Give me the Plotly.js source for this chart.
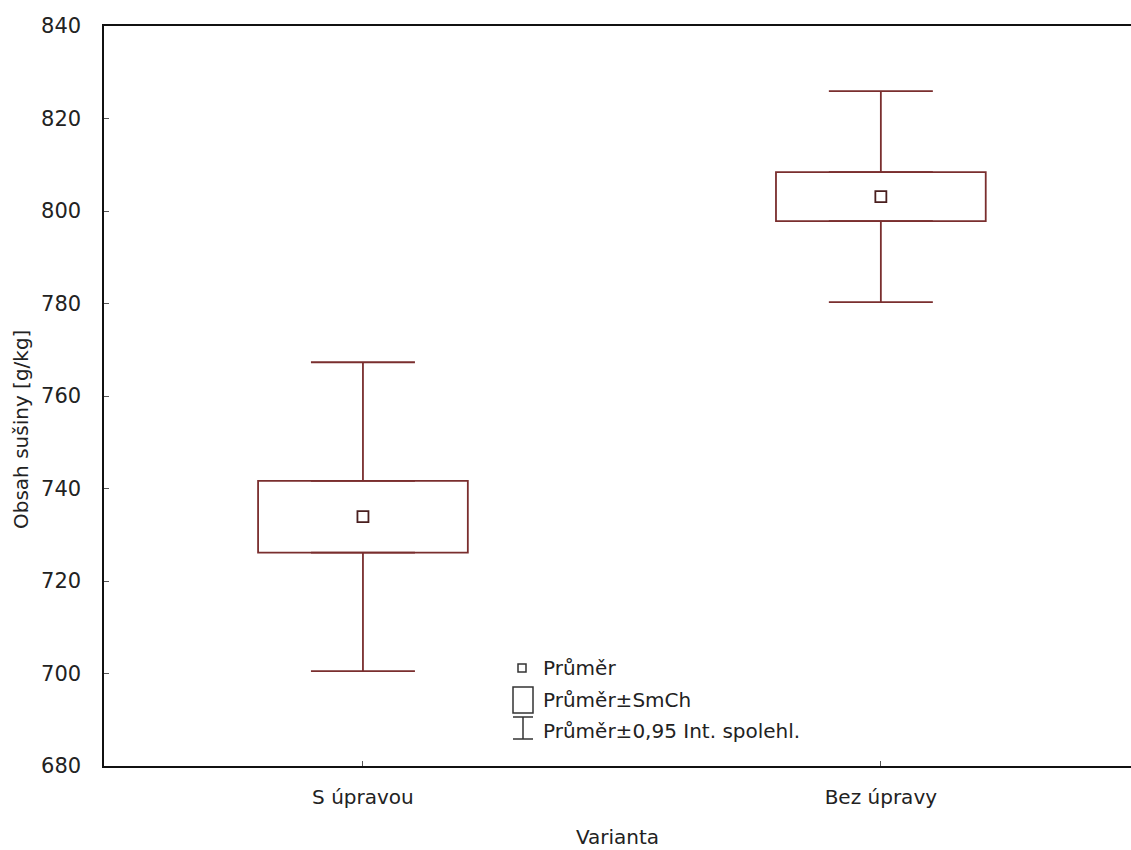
<!DOCTYPE html>
<html>
<head>
<meta charset="utf-8">
<script src="https://cdn.plot.ly/plotly-3.0.1.min.js"></script>
<style>html,body{margin:0;padding:0;background:#fff;}#chart{width:1131px;height:850px;}</style>
</head>
<body>
<div id="chart"></div>
<script>
// Data
const categories = ["S úpravou", "Bez úpravy"];
const means = [733.9, 803.1];
const stdErr = [7.75, 5.3];          // Průměr ± SmCh
const ci95 = [33.4, 22.8];           // Průměr ± 0,95 Int. spolehl.
const yTicks = [680, 700, 720, 740, 760, 780, 800, 820, 840];
const legendLabels = ["Průměr", "Průměr±SmCh", "Průměr±0,95 Int. spolehl."];
const xTitle = "Varianta";
const yTitle = "Obsah sušiny [g/kg]";

const lineColor = "#7a2e2e";
const catIdx = categories.map((c, i) => i);

const boxBase = means.map((m, i) => m - stdErr[i]);
const boxHeight = stdErr.map(s => 2 * s);
const upperStart = means.map((m, i) => m + stdErr[i]);
const lowerStart = means.map((m, i) => m - stdErr[i]);
const whiskerLen = ci95.map((c, i) => c - stdErr[i]);
const zeros = means.map(() => 0);

const traces = [
  {
    type: "bar", x: catIdx, y: boxHeight, base: boxBase, width: 0.405,
    marker: {color: "rgba(255,255,255,1)", line: {color: lineColor, width: 1.8}},
    showlegend: false, hoverinfo: "skip"
  },
  {
    type: "scatter", mode: "markers", x: catIdx, y: upperStart,
    marker: {size: 1, color: "rgba(0,0,0,0)"},
    error_y: {type: "data", symmetric: false, array: whiskerLen, arrayminus: zeros,
              color: lineColor, thickness: 1.8, width: 52},
    showlegend: false, hoverinfo: "skip"
  },
  {
    type: "scatter", mode: "markers", x: catIdx, y: lowerStart,
    marker: {size: 1, color: "rgba(0,0,0,0)"},
    error_y: {type: "data", symmetric: false, array: zeros, arrayminus: whiskerLen,
              color: lineColor, thickness: 1.8, width: 52},
    showlegend: false, hoverinfo: "skip"
  },
  {
    type: "scatter", mode: "markers", x: catIdx, y: means,
    marker: {symbol: "square-open", size: 11, color: "#4a1f1f", line: {width: 1.8, color: "#4a1f1f"}},
    showlegend: false
  }
];

const font = "DejaVu Sans, Arial, sans-serif";
const textColor = "#222";
const legendColor = "#333";

// plot area in pixels (for converting legend/title pixel spots to paper coords)
const PL = 104, PR = 1131, PT = 26, PB = 766;
const px = v => (v - PL) / (PR - PL);
const py = v => (PB - v) / (PB - PT);

const layout = {
  width: 1131, height: 850,
  margin: {l: PL, r: 1131 - PR, t: PT, b: 850 - PB},
  paper_bgcolor: "#fff", plot_bgcolor: "#fff",
  font: {family: font, size: 20, color: textColor},
  showlegend: false,
  xaxis: {
    range: [-0.5, 1.483], tickmode: "array", tickvals: catIdx, ticktext: categories,
    ticks: "inside", ticklen: 5, tickcolor: "#555", showline: true, linecolor: "#111", linewidth: 1.6,
    mirror: true, showgrid: false, zeroline: false, ticklabelstandoff: 12,
    tickfont: {family: font, size: 20, color: textColor},
    title: {text: xTitle, font: {family: font, size: 20, color: textColor}, standoff: 22}
  },
  yaxis: {
    range: [680, 840], tickmode: "array", tickvals: yTicks,
    ticks: "inside", ticklen: 5, tickcolor: "#555", showline: true, linecolor: "#111", linewidth: 1.6,
    showgrid: false, zeroline: false, ticklabelstandoff: 17,
    tickfont: {family: font, size: 21, color: textColor}
  },
  shapes: [
    {type: "rect", xref: "paper", yref: "paper", x0: px(518), x1: px(526), y0: py(672), y1: py(664),
     line: {color: legendColor, width: 1.5}},
    {type: "rect", xref: "paper", yref: "paper", x0: px(513), x1: px(533), y0: py(713), y1: py(687),
     line: {color: legendColor, width: 1.5}},
    {type: "line", xref: "paper", yref: "paper", x0: px(523), x1: px(523), y0: py(739), y1: py(717),
     line: {color: legendColor, width: 1.5}},
    {type: "line", xref: "paper", yref: "paper", x0: px(513), x1: px(533), y0: py(717), y1: py(717),
     line: {color: legendColor, width: 1.5}},
    {type: "line", xref: "paper", yref: "paper", x0: px(513), x1: px(533), y0: py(739), y1: py(739),
     line: {color: legendColor, width: 1.5}}
  ],
  annotations: [668, 700, 731].map((yy, i) => ({
    xref: "paper", yref: "paper", x: px(541), y: py(yy), text: legendLabels[i], showarrow: false,
    xanchor: "left", yanchor: "middle", font: {family: font, size: 20, color: textColor}
  })).concat([{
    xref: "paper", yref: "paper", x: px(21), y: py(430), text: yTitle, textangle: -90, showarrow: false,
    xanchor: "center", yanchor: "middle", font: {family: font, size: 20, color: textColor}
  }])
};

Plotly.newPlot("chart", traces, layout, {displayModeBar: false, staticPlot: true});
</script>
</body>
</html>
